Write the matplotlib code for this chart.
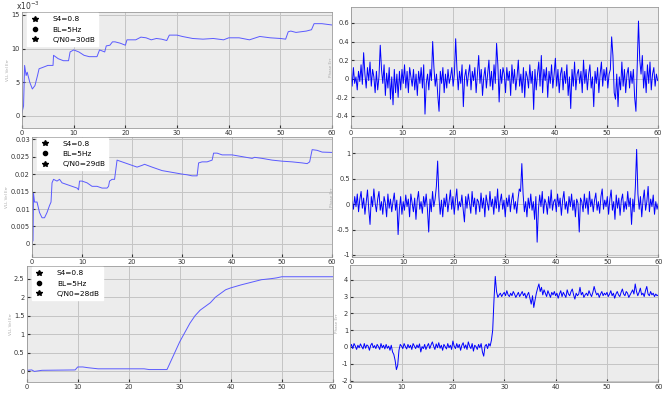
import matplotlib
matplotlib.use("Agg")
import matplotlib.pyplot as plt
from matplotlib.lines import Line2D
import numpy as np

# ---- left column: smooth error curves (time, value) ----
t_a = [0, 0.3, 0.5, 0.8, 1, 1.5, 2, 2.5, 3, 3.3, 4, 5, 6, 6.1, 7, 8, 9, 9.3, 10, 11, 12,
       13, 14, 14.5, 15, 16, 16.3, 17, 17.5, 18, 19, 20, 20.3, 22, 23, 24, 25, 26, 27,
       28, 28.5, 29, 30, 31, 33, 35, 37, 39, 40, 42, 44, 46, 48, 50, 51, 51.5, 52, 53,
       55, 56, 56.5, 58, 60]
y_a = [0.5, 1.5, 7.5, 6.0, 6.5, 5.0, 4.0, 4.5, 6.0, 7.0, 7.2, 7.5, 7.5, 9.0, 8.5, 8.2,
       8.2, 9.5, 9.8, 9.5, 9.0, 8.8, 8.8, 8.8, 9.8, 9.5, 10.4, 10.5, 11.0, 11.0, 10.8,
       10.5, 11.3, 11.3, 11.7, 11.6, 11.3, 11.5, 11.4, 11.2, 12.0, 12.0, 12.0, 11.8, 11.5,
       11.4, 11.5, 11.3, 11.6, 11.6, 11.3, 11.8, 11.6, 11.5, 11.4, 12.5, 12.6, 12.4, 12.6,
       12.8, 13.7, 13.7, 13.5]  # x10^-3

t_b = [0, 0.2, 0.3, 0.5, 1, 1.5, 2, 2.5, 3, 3.5, 3.8, 4, 4.3, 5, 5.5, 6, 7, 8, 9, 9.3,
       9.5, 10, 11, 12, 13, 14, 15, 15.3, 15.5, 16, 16.5, 17, 18, 19, 20, 21, 22, 22.5,
       24, 26, 28, 30, 31, 32, 33, 33.3, 34, 35, 36, 36.3, 37, 38, 40, 42, 44, 44.5, 46,
       48, 50, 52, 54, 55, 55.5, 56, 57, 58, 60]
y_b = [0.0002, 0.001, 0.0145, 0.012, 0.012, 0.009, 0.0075, 0.0075, 0.009, 0.011, 0.012,
       0.0175, 0.0185, 0.018, 0.0185, 0.0175, 0.017, 0.0165, 0.016, 0.0155, 0.018, 0.018,
       0.0175, 0.0165, 0.0165, 0.016, 0.016, 0.0165, 0.018, 0.0185, 0.0185, 0.024, 0.0235,
       0.023, 0.0225, 0.022, 0.0225, 0.0228, 0.022, 0.021, 0.0205, 0.020, 0.0198, 0.0195,
       0.0195, 0.0232, 0.0235, 0.0235, 0.024, 0.026, 0.026, 0.0255, 0.0255, 0.025, 0.0245,
       0.0248, 0.0245, 0.024, 0.0237, 0.0235, 0.0232, 0.023, 0.0235, 0.027, 0.0268,
       0.0263, 0.0262]

t_c = [0, 1, 1.5, 2.5, 3, 9.5, 10, 11, 12, 14, 20, 23, 24, 27.5, 28, 29, 30, 31, 32, 33,
       34, 35, 36, 37, 38, 39, 40, 42, 44, 46, 48, 49, 50, 52, 55, 60]
y_c = [0.03, 0.04, 0.0, 0.02, 0.03, 0.04, 0.12, 0.12, 0.10, 0.07, 0.07, 0.07, 0.05, 0.05,
       0.2, 0.5, 0.8, 1.05, 1.3, 1.5, 1.65, 1.75, 1.85, 2.0, 2.1, 2.2, 2.25, 2.33, 2.4,
       2.47, 2.5, 2.52, 2.55, 2.55, 2.55, 2.55]

# ---- right column: noisy phase curves, sampled every 0.25 s from 0 to 60 ----
t_n = np.arange(0, 60.01, 0.25)
y_d = [0.05, -0.08, 0.12, -0.05, 0.02, -0.12, 0.08, -0.03, 0.15, -0.06, 0.28, 0.05, -0.10, 0.12, -0.02, 0.18, -0.08, 0.10, 0.02, -0.15,
       0.08, -0.12, 0.02, 0.36, 0.10, -0.05, 0.15, -0.18, 0.06, -0.10, 0.12, -0.22, 0.02, -0.28, 0.10, -0.15, 0.05, -0.20, 0.08, -0.12,
       0.10, -0.05, 0.15, -0.10, 0.08, -0.15, 0.12, 0.02, -0.08, 0.10, -0.12, 0.05, -0.18, 0.08, -0.05, 0.12, -0.10, 0.15, -0.38, -0.05,
       0.05, -0.12, 0.10, -0.02, 0.40, 0.12, -0.08, 0.05, -0.18, -0.35, 0.08, -0.05, 0.12, -0.15, 0.05, -0.10, 0.10, -0.05, 0.02, 0.12,
       -0.08, 0.05, 0.43, 0.10, -0.12, 0.08, -0.05, 0.15, -0.30, 0.02, 0.10, -0.08, 0.05, 0.15, -0.12, 0.08, -0.02, 0.12, -0.15, 0.05,
       0.25, -0.05, 0.10, -0.18, 0.02, 0.12, -0.10, 0.05, 0.20, -0.08, 0.08, -0.12, 0.15, -0.05, 0.38, 0.15, -0.25, 0.10, -0.05, 0.12,
       0.05, -0.15, 0.12, -0.02, 0.08, -0.18, 0.15, -0.05, 0.10, -0.12, 0.02, 0.20, -0.08, 0.05, -0.15, 0.12, -0.20, 0.08, 0.02, -0.10,
       0.15, -0.05, 0.08, -0.33, 0.10, -0.12, 0.05, 0.18, -0.08, 0.25, -0.15, 0.10, -0.02, 0.12, -0.20, 0.08, -0.05, 0.15, -0.10, 0.05,
       0.22, -0.08, 0.10, -0.15, 0.05, 0.12, -0.12, 0.08, -0.05, 0.15, -0.18, 0.02, -0.32, 0.10, -0.08, 0.18, -0.12, 0.05, 0.10, -0.05,
       0.08, -0.15, 0.20, -0.05, 0.10, -0.12, 0.05, 0.15, -0.10, 0.02, -0.30, 0.08, -0.05, 0.12, -0.15, 0.05, 0.18, -0.08, 0.10, -0.02,
       0.12, -0.10, 0.05, 0.10, 0.45, 0.25, -0.15, -0.22, 0.05, -0.30, 0.02, -0.12, 0.18, -0.08, 0.10, -0.15, 0.05, 0.12, -0.10, 0.08,
       -0.05, 0.10, -0.20, -0.35, 0.15, 0.62, 0.20, 0.05, 0.25, -0.10, 0.08, -0.15, 0.15, -0.05, 0.18, -0.12, 0.05, 0.12, -0.08, 0.05,
       -0.02]
y_e = [0.05, -0.10, 0.15, -0.05, 0.20, -0.15, 0.10, 0.25, -0.08, 0.12, -0.20, 0.05, 0.28, -0.10, -0.40, 0.15, -0.05, 0.30, 0.02, -0.15,
       0.10, 0.25, -0.12, 0.05, -0.20, 0.15, 0.02, -0.25, 0.20, -0.08, 0.10, -0.15, 0.05, 0.22, -0.12, 0.08, -0.60, -0.10, 0.15, -0.20,
       0.05, -0.12, 0.18, -0.05, 0.10, -0.25, 0.20, 0.02, -0.15, 0.12, -0.30, 0.08, 0.25, -0.10, 0.05, -0.18, 0.15, -0.05, 0.20, -0.10,
       -0.55, 0.10, -0.15, 0.25, -0.05, 0.10, 0.35, 0.85, 0.15, -0.20, 0.08, -0.25, 0.12, -0.05, 0.20, -0.15, 0.05, 0.28, -0.10, 0.15,
       -0.20, 0.08, 0.30, -0.12, 0.05, -0.05, 0.18, -0.10, -0.35, 0.15, -0.08, 0.20, 0.02, -0.18, 0.25, -0.05, 0.12, -0.20, 0.10, 0.05,
       -0.15, 0.22, -0.08, 0.12, -0.25, 0.18, 0.02, -0.12, 0.25, -0.05, 0.10, -0.20, 0.15, -0.08, 0.30, -0.15, 0.05, 0.20, -0.10, 0.08,
       -0.25, 0.12, -0.05, 0.18, -0.15, 0.08, 0.22, -0.10, 0.05, -0.18, 0.10, 0.30, 0.25, 0.80, 0.20, -0.15, 0.05, -0.25, 0.12, -0.08,
       0.20, -0.12, 0.05, -0.30, 0.15, -0.75, -0.10, 0.18, -0.05, 0.25, -0.18, 0.10, 0.02, -0.20, 0.15, -0.08, 0.28, -0.12, 0.05, 0.10,
       -0.15, 0.20, -0.05, 0.12, -0.22, 0.08, 0.25, -0.10, 0.05, -0.18, 0.15, -0.05, 0.20, -0.12, 0.08, -0.25, 0.10, 0.02, -0.55, 0.12,
       0.05, -0.15, 0.20, -0.08, 0.12, -0.20, 0.25, -0.05, 0.10, -0.15, 0.08, 0.22, -0.12, 0.05, -0.18, 0.15, 0.30, -0.10, 0.08, -0.05,
       0.15, -0.20, 0.10, 0.28, -0.12, 0.05, -0.30, 0.18, -0.08, 0.12, -0.22, 0.08, 0.20, -0.15, 0.05, -0.10, 0.25, -0.05, 0.12, -0.40,
       0.10, -0.15, 0.35, 1.08, 0.20, -0.10, 0.15, -0.25, 0.08, 0.28, -0.12, 0.05, 0.35, -0.15, 0.10, -0.05, 0.18, -0.20, 0.05, -0.10,
       0.02]
y_f = [-0.05, 0.15, -0.10, 0.20, 0.05, -0.15, 0.10, -0.05, 0.18, 0.02, -0.12, 0.20, -0.08, 0.12, 0.05, -0.20, 0.10, 0.22, -0.05, 0.08,
       -0.10, 0.15, 0.02, -0.15, 0.20, -0.05, 0.10, -0.12, 0.15, -0.08, 0.05, -0.20, 0.10, -0.30, -0.45, -0.80, -1.35, -1.10, -0.20, 0.15,
       0.05, -0.10, 0.20, 0.02, -0.12, 0.15, -0.05, 0.10, -0.15, 0.20, 0.05, -0.10, 0.12, -0.05, 0.18, -0.30, 0.02, -0.10, 0.15, -0.15,
       0.05, 0.20, -0.10, 0.12, 0.30, 0.05, -0.15, 0.18, -0.05, 0.25, -0.08, 0.10, -0.20, 0.15, 0.02, -0.12, 0.20, -0.05, 0.10, -0.15,
       0.35, 0.05, -0.10, 0.20, -0.05, 0.15, -0.20, 0.10, 0.25, -0.08, 0.12, -0.15, 0.30, 0.05, -0.10, 0.20, -0.25, 0.10, 0.02, -0.15,
       0.15, -0.05, 0.20, -0.30, -0.55, 0.05, 0.15, -0.10, 0.20, 0.05, 0.40, 1.00, 2.80, 4.20, 3.30, 2.95, 3.10, 3.20, 3.00, 3.15,
       3.25, 3.05, 3.35, 3.10, 3.00, 3.20, 3.05, 3.30, 3.15, 2.95, 3.10, 3.25, 3.00, 3.15, 3.30, 3.05, 3.20, 2.90, 3.10, 3.25,
       2.90, 2.55, 3.05, 2.35, 2.80, 3.20, 3.50, 3.75, 3.30, 3.55, 3.10, 3.40, 3.20, 3.00, 3.35, 3.15, 2.95, 3.25, 3.10, 3.30,
       3.05, 3.20, 2.90, 3.15, 3.35, 3.00, 3.25, 3.10, 2.95, 3.40, 3.15, 3.05, 3.30, 3.45, 3.10, 2.85, 3.20, 3.05, 3.15, 3.55,
       3.10, 3.25, 2.95, 3.10, 3.20, 3.05, 3.35, 3.15, 3.00, 3.25, 3.60, 3.30, 3.10, 3.20, 2.95, 3.15, 3.30, 3.05, 3.20, 3.10,
       3.25, 3.00, 3.15, 3.35, 3.05, 3.20, 2.90, 3.15, 3.30, 3.10, 3.00, 3.25, 3.45, 3.15, 3.05, 3.30, 3.20, 2.95, 3.10, 3.25,
       3.40, 3.15, 3.75, 3.30, 3.05, 3.25, 3.50, 3.10, 3.20, 3.00, 3.35, 3.60, 3.15, 3.05, 3.30, 3.10, 3.20, 3.00, 3.15, 3.05,
       3.10]

legend_texts = [["S4=0.8", "BL=5Hz", "C/N0=30dB"],
                ["S4=0.8", "BL=5Hz", "C/N0=29dB"],
                ["S4=0.8", "BL=5Hz", "C/N0=28dB"]]
legend_markers = ["*", "o", "*"]

fig = plt.figure(figsize=(6.67, 3.94), dpi=100)

# axes rectangles
pos_left = [[0.033, 0.675, 0.465, 0.294],
            [0.048, 0.348, 0.450, 0.305],
            [0.040, 0.030, 0.459, 0.294]]
pos_right = [[0.526, 0.675, 0.460, 0.307],
             [0.528, 0.348, 0.459, 0.305],
             [0.525, 0.030, 0.462, 0.297]]


def style(ax, yticks, ylim):
    ax.set_facecolor("#ececec")
    ax.set_xlim(0, 60)
    ax.set_ylim(*ylim)
    ax.set_xticks([0, 10, 20, 30, 40, 50, 60])
    ax.set_yticks(yticks)
    ax.grid(True, color="#c4c4c4", lw=0.7)
    ax.tick_params(labelsize=4.8, length=2, direction="in", pad=1.5, colors="#333333")
    for s in ax.spines.values():
        s.set_color("#9a9a9a")
        s.set_linewidth(0.6)


left_data = [(t_a, y_a), (t_b, y_b), (t_c, y_c)]
left_yticks = [[0, 5, 10, 15],
               [0, 0.005, 0.01, 0.015, 0.02, 0.025, 0.03],
               [0, 0.5, 1, 1.5, 2, 2.5]]
left_ylim = [(-1.8, 15.4), (-0.0037, 0.0307), (-0.29, 2.83)]
left_ticklabels = [["0", "5", "10", "15"],
                   ["0", "0.005", "0.01", "0.015", "0.02", "0.025", "0.03"],
                   ["0", "0.5", "1", "1.5", "2", "2.5"]]

right_data = [y_d, y_e, y_f]
right_yticks = [[-0.4, -0.2, 0, 0.2, 0.4, 0.6], [-1, -0.5, 0, 0.5, 1], [-2, -1, 0, 1, 2, 3, 4]]
right_ticklabels = [["-0.4", "-0.2", "0", "0.2", "0.4", "0.6"],
                    ["-1", "-0.5", "0", "0.5", "1"],
                    ["-2", "-1", "0", "1", "2", "3", "4"]]
right_ylim = [(-0.53, 0.77), (-1.04, 1.33), (-2.1, 4.87)]

for i in range(3):
    ax = fig.add_axes(pos_left[i])
    style(ax, left_yticks[i], left_ylim[i])
    ax.set_yticklabels(left_ticklabels[i])
    t, y = left_data[i]
    ax.plot(t, y, color="#5a5aff", lw=0.7)
    ax.set_ylabel("VLL Vel Err", fontsize=3, color="#aaaaaa", labelpad=1)
    handles = [Line2D([], [], ls="none", marker=m, color="black",
                      markersize=3.0 if m == "o" else 3.8) for m in legend_markers]
    leg = ax.legend(handles, legend_texts[i], loc="upper left", bbox_to_anchor=(0.01, 1.01),
                    fontsize=5.3, frameon=True, fancybox=False, handletextpad=1.8,
                    labelspacing=0.55, borderpad=0.4, handlelength=1.2, borderaxespad=0.3)
    leg.get_frame().set_facecolor("white")
    leg.get_frame().set_edgecolor("white")
    leg.get_frame().set_alpha(1)
    if i == 0:
        ax.text(-0.02, 1.0, r"x10$^{-3}$", transform=ax.transAxes, fontsize=5.5,
                ha="left", va="bottom", color="#333333")

    axr = fig.add_axes(pos_right[i])
    style(axr, right_yticks[i], right_ylim[i])
    axr.set_yticklabels(right_ticklabels[i])
    axr.plot(t_n, right_data[i], color="#0000ff", lw=0.7)
    axr.set_ylabel("Phase Err", fontsize=3, color="#aaaaaa", labelpad=2)

fig.savefig("out.png", dpi=100, facecolor="white")
